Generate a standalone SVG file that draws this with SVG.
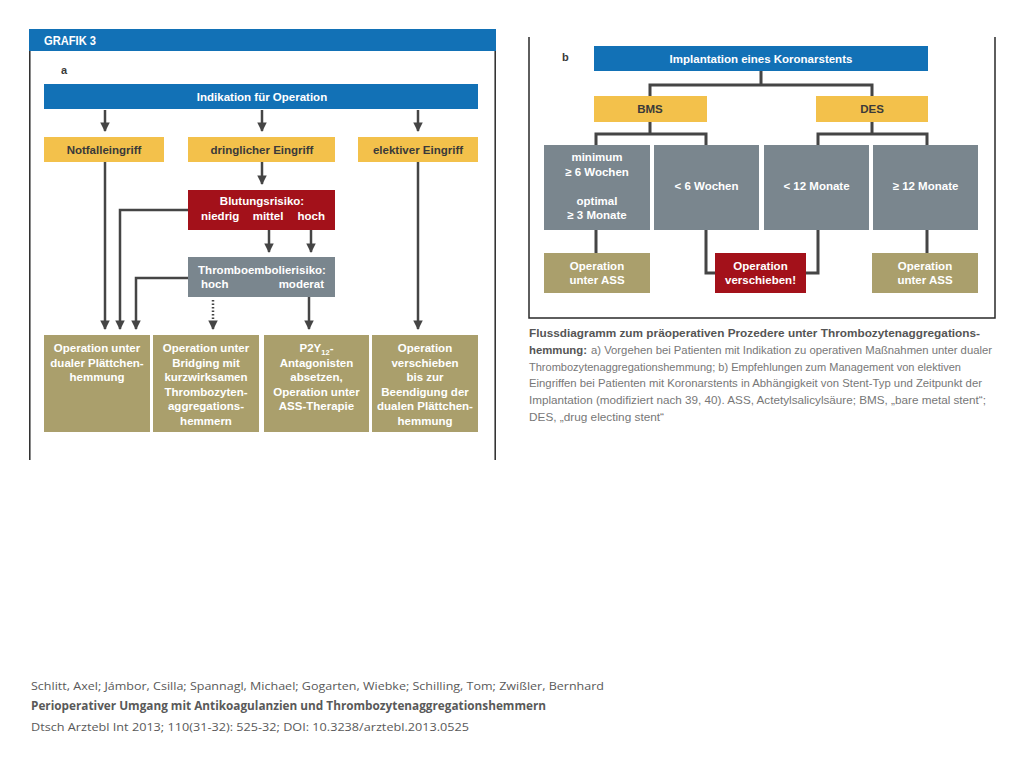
<svg xmlns="http://www.w3.org/2000/svg" width="1024" height="768" viewBox="0 0 1024 768">
<defs>
<style>
.t{font-family:"Liberation Sans",Arial,sans-serif;font-weight:bold;font-size:11.5px;text-anchor:middle}
.w{fill:#ffffff}
.d{fill:#3a3a3a}
.blue{fill:#1271b6}
.yel{fill:#f3c14b}
.red{fill:#a3111a}
.gray{fill:#7a868e}
.olive{fill:#aa9f6c}
.ln{stroke:#454545;stroke-width:2.5;fill:none}
.lnb{stroke:#454545;stroke-width:3;fill:none}
.frame{stroke:#2a2a2a;stroke-width:1.5;fill:none}
.cap{font-family:"Liberation Sans",Arial,sans-serif;font-size:11.5px}
.foot{font-family:"Open Sans","Liberation Sans",sans-serif;font-size:11.5px;fill:#595959}
</style>
<marker id="ah" viewBox="0 0 10 10" refX="9" refY="5" markerWidth="3.8" markerHeight="3.8" orient="auto" markerUnits="strokeWidth">
<path d="M0,0 L10,5 L0,10 z" fill="#454545"/>
</marker>
</defs>
<rect width="1024" height="768" fill="#ffffff"/>

<g id="panel-a-frame">
<rect x="29" y="29" width="467" height="22" class="blue"/>
<text x="44" y="45" class="t w" style="text-anchor:start;font-size:12px" textLength="52" lengthAdjust="spacingAndGlyphs">GRAFIK 3</text>
<path d="M29.8,51 V460 M495.2,51 V460" class="frame"/>
<text x="61" y="74" class="t d" style="text-anchor:start;font-size:11px">a</text>
</g>

<g id="connectors-a">
<path d="M105,110 V131" class="ln" marker-end="url(#ah)"/>
<path d="M262,110 V131" class="ln" marker-end="url(#ah)"/>
<path d="M418,110 V131" class="ln" marker-end="url(#ah)"/>
<path d="M262,162 V184" class="ln" marker-end="url(#ah)"/>
<path d="M105,162 V329" class="ln" marker-end="url(#ah)"/>
<path d="M418,162 V329" class="ln" marker-end="url(#ah)"/>
<path d="M188,210 H120 V329" class="ln" marker-end="url(#ah)"/>
<path d="M269,230 V252" class="ln" marker-end="url(#ah)"/>
<path d="M311,230 V252" class="ln" marker-end="url(#ah)"/>
<path d="M188,278 H136 V329" class="ln" marker-end="url(#ah)"/>
<path d="M213,300 V322" stroke="#454545" stroke-width="2.5" stroke-dasharray="1.5,2" fill="none"/>
<path d="M213,322 V329" class="ln" marker-end="url(#ah)"/>
<path d="M309,297 V329" class="ln" marker-end="url(#ah)"/>
</g>

<g id="indikation">
<rect x="44" y="84" width="434" height="25" class="blue"/>
<text x="262" y="101" class="t w">Indikation für Operation</text>
</g>
<g id="notfall">
<rect x="44" y="137" width="120" height="25" class="yel"/>
<text x="104" y="154" class="t d">Notfalleingriff</text>
</g>
<g id="dringlich">
<rect x="188" y="137" width="147" height="25" class="yel"/>
<text x="262" y="154" class="t d">dringlicher Eingriff</text>
</g>
<g id="elektiv">
<rect x="358" y="137" width="120" height="25" class="yel"/>
<text x="418" y="154" class="t d">elektiver Eingriff</text>
</g>
<g id="blutung">
<rect x="188" y="190" width="147" height="40" class="red"/>
<text x="262" y="205" class="t w">Blutungsrisiko:</text>
<text x="201" y="220" class="t w" style="text-anchor:start">niedrig</text>
<text x="268" y="220" class="t w">mittel</text>
<text x="325" y="220" class="t w" style="text-anchor:end">hoch</text>
</g>
<g id="thrombo">
<rect x="188" y="257" width="147" height="40" class="gray"/>
<text x="262" y="274" class="t w">Thromboembolierisiko:</text>
<text x="201" y="288" class="t w" style="text-anchor:start">hoch</text>
<text x="324" y="288" class="t w" style="text-anchor:end">moderat</text>
</g>
<g id="op-dual">
<rect x="44" y="335" width="106" height="97" class="olive"/>
<text class="t w"><tspan x="97" y="352">Operation unter</tspan><tspan x="97" y="366.5">dualer Plättchen-</tspan><tspan x="97" y="381">hemmung</tspan></text>
</g>
<g id="op-bridging">
<rect x="153" y="335" width="106" height="97" class="olive"/>
<text class="t w"><tspan x="206" y="352">Operation unter</tspan><tspan x="206" y="366.5">Bridging mit</tspan><tspan x="206" y="381">kurzwirksamen</tspan><tspan x="206" y="395.5">Thrombozyten-</tspan><tspan x="206" y="410">aggregations-</tspan><tspan x="206" y="424.5">hemmern</tspan></text>
</g>
<g id="p2y12">
<rect x="264" y="335" width="105" height="97" class="olive"/>
<text class="t w"><tspan x="316.5" y="352">P2Y<tspan font-size="7.5" dy="3">12</tspan><tspan dy="-3">-</tspan></tspan><tspan x="316.5" y="366.5">Antagonisten</tspan><tspan x="316.5" y="381">absetzen,</tspan><tspan x="316.5" y="395.5">Operation unter</tspan><tspan x="316.5" y="410">ASS-Therapie</tspan></text>
</g>
<g id="op-verschieben-a">
<rect x="372" y="335" width="106" height="97" class="olive"/>
<text class="t w"><tspan x="425" y="352">Operation</tspan><tspan x="425" y="366.5">verschieben</tspan><tspan x="425" y="381">bis zur</tspan><tspan x="425" y="395.5">Beendigung der</tspan><tspan x="425" y="410">dualen Plättchen-</tspan><tspan x="425" y="424.5">hemmung</tspan></text>
</g>

<g id="panel-b-frame">
<path d="M529,37 V318 H995 V37" class="frame"/>
<text x="562" y="61" class="t d" style="text-anchor:start;font-size:11px">b</text>
</g>

<g id="connectors-b">
<path d="M761,71 V85 M650,96 V85 H872 V96" class="lnb"/>
<path d="M650,122 V134 M596,145 V134 H706 V145" class="lnb"/>
<path d="M872,122 V134 M818,145 V134 H927 V145" class="lnb"/>
<path d="M596,230 V253" class="lnb"/>
<path d="M927,230 V253" class="lnb"/>
<path d="M706,230 V273 H715" class="lnb"/>
<path d="M818,230 V273 H806" class="lnb"/>
</g>

<g id="implantation">
<rect x="594" y="46" width="334" height="25" class="blue"/>
<text x="761" y="63" class="t w">Implantation eines Koronarstents</text>
</g>
<g id="bms">
<rect x="594" y="96" width="113" height="26" class="yel"/>
<text x="650" y="113" class="t d">BMS</text>
</g>
<g id="des">
<rect x="816" y="96" width="112" height="26" class="yel"/>
<text x="872" y="113" class="t d">DES</text>
</g>
<g id="bms-min">
<rect x="544" y="145" width="106" height="85" class="gray"/>
<text class="t w"><tspan x="597" y="161">minimum</tspan><tspan x="597" y="176">≥ 6 Wochen</tspan><tspan x="597" y="205">optimal</tspan><tspan x="597" y="219">≥ 3 Monate</tspan></text>
</g>
<g id="bms-lt6">
<rect x="654" y="145" width="105" height="85" class="gray"/>
<text x="706.5" y="190" class="t w">&lt; 6 Wochen</text>
</g>
<g id="des-lt12">
<rect x="764" y="145" width="105" height="85" class="gray"/>
<text x="816.5" y="190" class="t w">&lt; 12 Monate</text>
</g>
<g id="des-ge12">
<rect x="873" y="145" width="105" height="85" class="gray"/>
<text x="925.5" y="190" class="t w">≥ 12 Monate</text>
</g>
<g id="op-ass-1">
<rect x="544" y="253" width="106" height="40" class="olive"/>
<text class="t w"><tspan x="597" y="270">Operation</tspan><tspan x="597" y="284">unter ASS</tspan></text>
</g>
<g id="op-verschieben-b">
<rect x="715" y="253" width="91" height="40" class="red"/>
<text class="t w"><tspan x="760.5" y="270">Operation</tspan><tspan x="760.5" y="284">verschieben!</tspan></text>
</g>
<g id="op-ass-2">
<rect x="872" y="253" width="106" height="40" class="olive"/>
<text class="t w"><tspan x="925" y="270">Operation</tspan><tspan x="925" y="284">unter ASS</tspan></text>
</g>

<g id="caption">
<text x="529" y="337" class="cap" font-weight="bold" fill="#555" textLength="451" lengthAdjust="spacingAndGlyphs">Flussdiagramm zum präoperativen Prozedere unter Thrombozytenaggregations-</text>
<text x="529" y="354" class="cap" font-weight="bold" fill="#555" textLength="58" lengthAdjust="spacingAndGlyphs">hemmung:</text>
<text x="591" y="354" class="cap" fill="#777" textLength="401" lengthAdjust="spacingAndGlyphs">a) Vorgehen bei Patienten mit Indikation zu operativen Maßnahmen unter dualer</text>
<text x="529" y="370.5" class="cap" fill="#777" textLength="432" lengthAdjust="spacingAndGlyphs">Thrombozytenaggregationshemmung; b) Empfehlungen zum Management von elektiven</text>
<text x="529" y="387" class="cap" fill="#777" textLength="453" lengthAdjust="spacingAndGlyphs">Eingriffen bei Patienten mit Koronarstents in Abhängigkeit von Stent-Typ und Zeitpunkt der</text>
<text x="529" y="404" class="cap" fill="#777" textLength="457" lengthAdjust="spacingAndGlyphs">Implantation (modifiziert nach 39, 40). ASS, Actetylsalicylsäure; BMS, „bare metal stent“;</text>
<text x="529" y="420.5" class="cap" fill="#777" textLength="135" lengthAdjust="spacingAndGlyphs">DES, „drug electing stent“</text>
</g>

<g id="footer">
<text x="31" y="690" class="foot" textLength="573" lengthAdjust="spacingAndGlyphs">Schlitt, Axel; Jámbor, Csilla; Spannagl, Michael; Gogarten, Wiebke; Schilling, Tom; Zwißler, Bernhard</text>
<text x="31" y="710" class="foot" font-weight="bold" textLength="515" lengthAdjust="spacingAndGlyphs">Perioperativer Umgang mit Antikoagulanzien und Thrombozytenaggregationshemmern</text>
<text x="31" y="731" class="foot" textLength="438" lengthAdjust="spacingAndGlyphs">Dtsch Arztebl Int 2013; 110(31-32): 525-32; DOI: 10.3238/arztebl.2013.0525</text>
</g>
</svg>
